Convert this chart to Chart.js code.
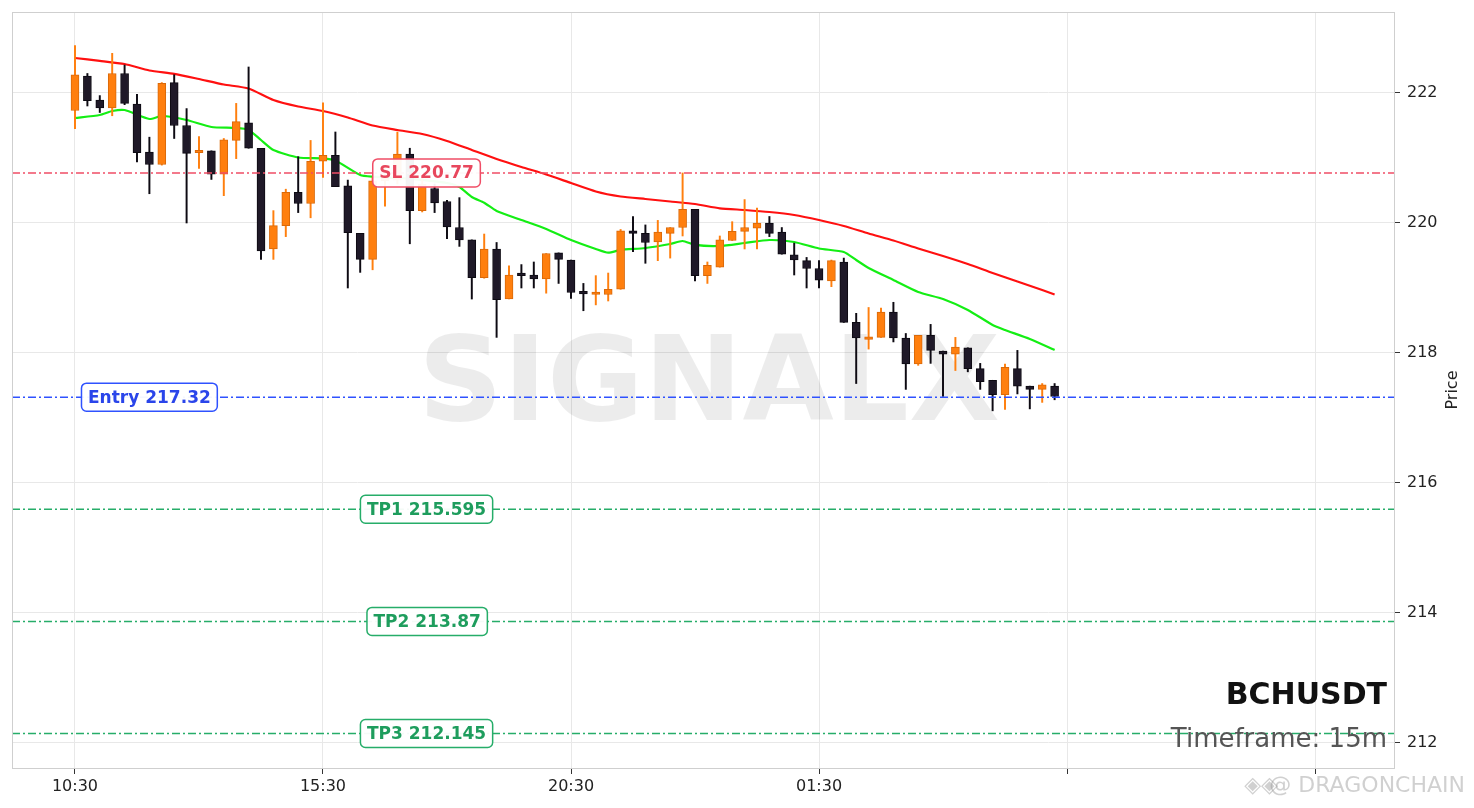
<!DOCTYPE html>
<html>
<head>
<meta charset="utf-8">
<script src="https://cdn.jsdelivr.net/npm/chart.js@4.4.1/dist/chart.umd.min.js"></script>
<style>
  html, body { margin: 0; padding: 0; background: #ffffff; }
  #wrap { width: 1474px; height: 808px; position: relative; }
</style>
</head>
<body>
<div id="wrap"><canvas id="c" width="1474" height="808"></canvas></div>
<script>
// ---------- DATA ----------
const symbol = 'BCHUSDT';
const timeframe = 'Timeframe: 15m';
const tickIdx = [0, 20, 40, 60, 80, 100];
const timeLabels = ['10:30', '15:30', '20:30', '01:30', '', ''];
const priceTicks = [212, 214, 216, 218, 220, 222];
const xRange = [-5.08, 106.37];
const yRange = [211.615, 223.246];

const opens = [221.73,222.26,221.89,221.77,222.30,221.83,221.09,220.90,222.16,221.50,
  221.08,221.11,220.75,221.27,221.54,221.15,219.60,219.96,220.47,220.30,
  220.95,221.04,220.57,219.84,219.44,220.65,220.66,221.06,220.19,220.53,
  220.33,219.93,219.74,219.16,219.60,218.83,219.21,219.20,219.14,219.54,
  219.43,218.93,218.90,218.90,218.98,219.88,219.84,219.71,219.84,219.93,
  220.21,219.19,219.32,219.73,219.87,219.92,220.00,219.86,219.51,219.42,
  219.30,219.11,219.40,218.47,218.21,218.24,218.63,218.23,217.83,218.27,
  218.03,217.98,218.08,217.76,217.58,217.36,217.76,217.49,217.44,217.49];
const highs = [222.73,222.30,221.96,222.61,222.43,221.98,221.32,222.16,222.28,221.76,
  221.33,221.11,221.30,221.84,222.40,221.15,220.19,220.52,221.02,221.27,
  221.85,221.40,220.66,219.84,220.70,220.85,221.40,221.15,220.70,220.60,
  220.35,220.39,219.74,219.83,219.70,219.34,219.36,219.40,219.53,219.54,
  219.43,219.07,219.19,219.23,219.90,220.10,219.97,220.04,219.93,220.77,
  220.21,219.40,219.80,220.02,220.36,220.23,220.10,219.93,219.69,219.47,
  219.42,219.43,219.46,218.61,218.70,218.69,218.78,218.30,218.27,218.44,
  218.03,218.24,218.08,217.84,217.58,217.83,218.04,217.49,217.53,217.53];
const lows = [221.45,221.80,221.70,221.65,221.82,220.94,220.45,220.89,221.30,220.00,
  220.84,220.67,220.42,220.99,221.15,219.44,219.44,219.79,220.16,220.08,
  220.70,220.56,219.00,219.24,219.28,220.26,220.60,219.68,220.17,220.16,
  219.76,219.64,218.83,219.15,218.24,218.83,219.00,219.00,218.92,219.07,
  218.84,218.65,218.74,218.80,218.98,219.56,219.38,219.42,219.46,219.80,
  219.11,219.07,219.32,219.73,219.60,219.60,219.79,219.52,219.20,219.00,
  219.00,219.02,218.47,217.53,218.06,218.24,218.17,217.44,217.81,217.84,
  217.33,217.73,217.71,217.44,217.11,217.13,217.37,217.14,217.24,217.28];
const closes = [222.28,221.88,221.77,222.30,221.84,221.08,220.90,222.15,221.50,221.07,
  221.10,220.75,221.28,221.56,221.15,219.57,219.96,220.47,220.30,220.95,
  221.04,220.56,219.85,219.44,220.65,220.66,221.06,220.19,220.60,220.31,
  219.94,219.74,219.16,219.60,218.82,219.20,219.19,219.14,219.53,219.44,
  218.93,218.91,218.92,218.98,219.88,219.84,219.70,219.86,219.93,220.21,
  219.19,219.35,219.74,219.87,219.93,220.00,219.84,219.52,219.43,219.30,
  219.12,219.42,218.47,218.23,218.25,218.63,218.23,217.83,218.27,218.04,
  217.98,218.09,217.76,217.56,217.36,217.78,217.49,217.44,217.51,217.33];

// slow moving average (red), read at candle indices
const slowIdx = [0,2,4,6,8,10,12,14,16,18,20,22,24,26,28,30,32,34,36,38,40,42,44,46,48,50,52,54,56,58,60,62,64,66,68,70,72,74,76,78,79];
const slowVal = [222.538,222.495,222.446,222.346,222.295,222.215,222.131,222.069,221.892,221.792,
  221.723,221.623,221.500,221.431,221.369,221.262,221.123,220.985,220.862,220.746,
  220.615,220.485,220.408,220.369,220.331,220.292,220.226,220.200,220.169,220.123,
  220.046,219.954,219.838,219.731,219.608,219.492,219.369,219.231,219.100,218.969,218.900];
// fast moving average (green)
const fastIdx = [0,2,3,4,6,7,9,11,13,14,15,16,18,20,21,23,24,26,28,30,31,32,33,34,36,38,40,42,43,44,46,48,49,50,52,54,56,58,60,62,63,64,66,68,70,72,74,75,77,79];
const fastVal = [221.615,221.662,221.723,221.738,221.600,221.646,221.585,221.477,221.462,221.431,
  221.277,221.123,221.008,220.995,220.962,220.738,220.712,220.692,220.662,220.615,
  220.554,220.400,220.312,220.185,220.046,219.908,219.738,219.600,219.543,219.585,
  219.615,219.677,219.723,219.662,219.646,219.692,219.738,219.708,219.608,219.554,
  219.431,219.308,219.123,218.938,218.831,218.662,218.431,218.354,218.215,218.046];

// trade levels
const levelNames = ['SL', 'Entry', 'TP1', 'TP2', 'TP3'];
const levelValues = [220.77, 217.32, 215.595, 213.87, 212.145];

// ---------- STYLE ----------
const levelStyle = [
  { line: '#f04d66', text: '#e8475d', labelX: 28.35 },
  { line: '#2f52ff', text: '#2a45ea', labelX: 6.0 },
  { line: '#26ad69', text: '#1e9d5d', labelX: 28.35 },
  { line: '#26ad69', text: '#1e9d5d', labelX: 28.4 },
  { line: '#26ad69', text: '#1e9d5d', labelX: 28.35 }
];
const UP_FILL = '#ff7f0e', UP_EDGE = '#d9690a';
const DN_FILL = '#1f1928', DN_EDGE = '#0d0a12';

const idx = opens.map((_, i) => i);
const isUp = idx.map(i => closes[i] >= opens[i]);

const overlay = {
  id: 'overlay',
  beforeDatasetsDraw(chart) {
    const { ctx, chartArea: a } = chart;
    ctx.save();
    ctx.font = 'bold 118px "DejaVu Sans"';
    ctx.fillStyle = 'rgba(0,0,0,0.075)';
    ctx.textAlign = 'center';
    ctx.textBaseline = 'alphabetic';
    ctx.fillText('SIGNALX', (a.left + a.right) / 2 + 6, 420);
    ctx.restore();
  },
  afterDatasetsDraw(chart) {
    const { ctx, chartArea: a, scales } = chart;
    const ys = scales.y, xs = scales.x;
    ctx.save();
    levelValues.forEach((v, k) => {
      const y = ys.getPixelForValue(v);
      ctx.strokeStyle = levelStyle[k].line;
      ctx.lineWidth = 1.6;
      ctx.setLineDash([8, 3, 2, 3]);
      ctx.beginPath();
      ctx.moveTo(a.left, y);
      ctx.lineTo(a.right, y);
      ctx.stroke();
    });
    ctx.setLineDash([]);
    ctx.font = 'bold 17px "DejaVu Sans"';
    ctx.textAlign = 'center';
    ctx.textBaseline = 'middle';
    levelValues.forEach((v, k) => {
      const txt = levelNames[k] + ' ' + v;
      const cx = xs.getPixelForValue(levelStyle[k].labelX);
      const cy = ys.getPixelForValue(v);
      const w = ctx.measureText(txt).width + 13;
      const h = 28;
      const x0 = cx - w / 2, y0 = cy - h / 2;
      ctx.beginPath();
      ctx.roundRect(x0, y0, w, h, 5);
      ctx.fillStyle = 'rgba(255,255,255,0.95)';
      ctx.fill();
      ctx.lineWidth = 1.5;
      ctx.strokeStyle = levelStyle[k].line;
      ctx.stroke();
      ctx.fillStyle = levelStyle[k].text;
      ctx.fillText(txt, cx, cy + 1);
    });
    ctx.restore();
  },
  afterDraw(chart) {
    const { ctx, chartArea: a } = chart;
    ctx.save();
    ctx.strokeStyle = '#cfcfcf';
    ctx.lineWidth = 1;
    ctx.strokeRect(a.left + 0.5, a.top + 0.5, a.right - a.left, a.bottom - a.top);
    ctx.textAlign = 'right';
    ctx.textBaseline = 'alphabetic';
    ctx.font = 'bold 30px "DejaVu Sans"';
    ctx.fillStyle = '#111111';
    ctx.fillText(symbol, 1387, 704);
    ctx.font = '26px "DejaVu Sans"';
    ctx.fillStyle = '#555555';
    ctx.fillText(timeframe, 1387, 747);
    ctx.translate(1453, 390);
    ctx.rotate(-Math.PI / 2);
    ctx.textAlign = 'center';
    ctx.textBaseline = 'middle';
    ctx.font = '16px "DejaVu Sans"';
    ctx.fillStyle = '#222222';
    ctx.fillText('Price', 0, 0);
    ctx.restore();
    ctx.save();
    ctx.font = '22px "DejaVu Sans"';
    ctx.fillStyle = 'rgba(150,150,150,0.45)';
    ctx.textAlign = 'right';
    ctx.textBaseline = 'alphabetic';
    ctx.fillText('@ DRAGONCHAIN', 1465, 792);
    ctx.fillText('◈◈', 1278, 792);
    ctx.restore();
  }
};

const chart = new Chart(document.getElementById('c'), {
  type: 'bar',
  data: {
    datasets: [
      {
        type: 'line', label: 'slow', order: 4,
        data: slowIdx.map((x, k) => ({ x: x, y: slowVal[k] })),
        borderColor: '#ff1010', borderWidth: 2.2, pointRadius: 0, tension: 0.2, fill: false
      },
      {
        type: 'line', label: 'fast', order: 3,
        data: fastIdx.map((x, k) => ({ x: x, y: fastVal[k] })),
        borderColor: '#14ee14', borderWidth: 2.2, pointRadius: 0, tension: 0.2, fill: false
      },
      {
        label: 'wick', order: 2, grouped: false,
        data: idx.map(i => ({ x: i, y: [lows[i], highs[i]] })),
        backgroundColor: idx.map(i => isUp[i] ? UP_FILL : DN_EDGE),
        barThickness: 1.3, borderWidth: 0, minBarLength: 1
      },
      {
        label: 'body', order: 1, grouped: false,
        data: idx.map(i => ({ x: i, y: [opens[i], closes[i]] })),
        backgroundColor: idx.map(i => isUp[i] ? UP_FILL : DN_FILL),
        borderColor: idx.map(i => isUp[i] ? UP_EDGE : DN_EDGE),
        borderWidth: 1, borderSkipped: false,
        barThickness: 8, minBarLength: 2.5
      }
    ]
  },
  options: {
    responsive: false,
    animation: false,
    events: [],
    layout: { padding: { left: 12, top: 12, right: 0, bottom: 0 } },
    plugins: { legend: { display: false }, tooltip: { enabled: false }, title: { display: false } },
    scales: {
      x: {
        type: 'linear', min: xRange[0], max: xRange[1], offset: false,
        afterBuildTicks: s => { s.ticks = tickIdx.map(v => ({ value: v })); },
        afterFit: s => { s.height = 40; s.paddingLeft = 0; s.paddingRight = 0; },
        ticks: {
          callback: (v) => { const k = tickIdx.indexOf(v); return k >= 0 ? timeLabels[k] : ''; },
          font: { family: '"DejaVu Sans"', size: 16 },
          color: '#222222', padding: 3, maxRotation: 0, autoSkip: false
        },
        grid: { offset: false, color: '#e8e8e8', lineWidth: 1, tickColor: '#333333', tickLength: 6, tickWidth: 1 },
        border: { display: true, color: '#cfcfcf' }
      },
      y: {
        type: 'linear', position: 'right', min: yRange[0], max: yRange[1],
        afterBuildTicks: s => { s.ticks = priceTicks.map(v => ({ value: v })); },
        afterFit: s => { s.width = 80; s.paddingTop = 0; s.paddingBottom = 0; },
        ticks: {
          font: { family: '"DejaVu Sans"', size: 16 },
          color: '#222222', padding: 7
        },
        grid: { color: '#e8e8e8', lineWidth: 1, tickColor: '#333333', tickLength: 6, tickWidth: 1 },
        border: { display: true, color: '#cfcfcf' }
      }
    }
  },
  plugins: [overlay]
});
</script>
</body>
</html>
